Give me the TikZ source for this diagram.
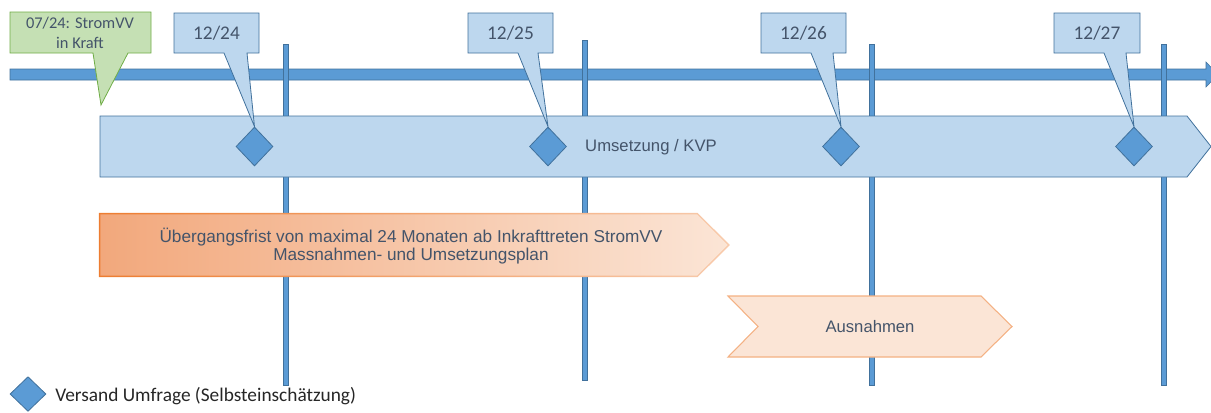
\documentclass[tikz,border=0pt]{standalone}
\usepackage{fontspec}
\setmainfont{Carlito}
\newfontfamily\arialf{Liberation Sans}
\usetikzlibrary{shapes.geometric}
\definecolor{mblue}{HTML}{5B9BD5}
\definecolor{dblue}{HTML}{41719C}
\definecolor{lblue}{HTML}{BDD7EE}
\definecolor{lgreen}{HTML}{C5E0B4}
\definecolor{dgreen}{HTML}{70AD47}
\definecolor{txt}{HTML}{44546A}
\definecolor{orA}{HTML}{F2A87C}
\definecolor{orB}{HTML}{FBE5D6}
\definecolor{orLine}{HTML}{ED7D31}
\definecolor{orLineB}{HTML}{F8CBAD}
\definecolor{peach}{HTML}{FBE5D6}
\definecolor{peachLine}{HTML}{F4B183}
\begin{document}
\begin{tikzpicture}[x=0.75pt,y=-0.75pt,
  vbar/.style={fill=mblue,draw=dblue,line width=0.5pt},
  callout/.style={fill=lblue,draw=dblue,line width=0.6pt,line join=miter},
  gcallout/.style={fill=lgreen,draw=dgreen,line width=0.6pt},
  ctext/.style={text=txt,font=\fontsize{14.5}{16}\selectfont,inner sep=0pt},
  gtext/.style={text=txt,font=\fontsize{12.3}{14}\selectfont,inner sep=0pt},
  atext/.style={text=txt,font=\arialf\fontsize{12.5}{14}\selectfont,inner sep=0pt},
  dia/.style={diamond,fill=mblue,draw=dblue,line width=0.6pt,inner sep=0pt,minimum width=27.75pt,minimum height=29.25pt}
]
\useasboundingbox (0,0) rectangle (1211,412);
% main time arrow
\path[fill=mblue,draw=dblue,line width=0.4pt] (10,69) -- (1206,69) -- (1206,62) -- (1218,74.5) -- (1206,87) -- (1206,80) -- (10,80) -- cycle;
% vertical year lines
\draw[vbar] (283.5,44) rectangle (288.5,385);
\draw[vbar] (582.5,40) rectangle (587.5,380);
\draw[vbar] (869.5,44) rectangle (874.5,385);
\draw[vbar] (1161.5,44) rectangle (1166.5,385);
% Umsetzung box
\path[fill=lblue,draw=dblue,line width=0.6pt] (100,116) -- (1187,116) -- (1211,146.5) -- (1187,177) -- (100,177) -- cycle;
\node[atext] (ums) at (651,147) {Umsetzung / KVP};
% orange transition arrow
\path[left color=orLine,right color=orLineB] (98.8,212.8) -- (697.5,212.8) -- (729.8,245) -- (697.5,277.2) -- (98.8,277.2) -- cycle;
\path[left color=orA,right color=orB] (100.4,214.4) -- (697,214.4) -- (727.6,245) -- (697,275.6) -- (100.4,275.6) -- cycle;
\node[atext,align=center,font=\arialf\fontsize{12.9}{13.5}\selectfont] (frist) at (411,246) {Übergangsfrist von maximal 24 Monaten ab Inkrafttreten StromVV\\Massnahmen- und Umsetzungsplan};
% Ausnahmen chevron
\path[fill=peach,draw=peachLine,line width=0.8pt] (728,296) -- (981,296) -- (1012,326.5) -- (981,357) -- (728,357) -- (758,326.5) -- cycle;
\node[atext] (aus) at (870,327) {Ausnahmen};
% diamonds
\node[dia] (d1) at (254.5,146.5) {};
\node[dia] (d2) at (548,146.5) {};
\node[dia] (d3) at (841,146.5) {};
\node[dia] (d4) at (1134,146.5) {};
% callouts
\path[callout] (174,13) -- (259,13) -- (259,53) -- (247,53) -- (d1.north) -- (224,53) -- (174,53) -- cycle;
\node[ctext] (c1) at (216.5,33) {12/24};
\path[callout] (468,13) -- (553,13) -- (553,53) -- (538,53) -- (d2.north) -- (518,53) -- (468,53) -- cycle;
\node[ctext] (c2) at (510.5,33) {12/25};
\path[callout] (761,13) -- (846,13) -- (846,53) -- (833,53) -- (d3.north) -- (811,53) -- (761,53) -- cycle;
\node[ctext] (c3) at (803.5,33) {12/26};
\path[callout] (1054,13) -- (1140,13) -- (1140,53) -- (1126,53) -- (d4.north) -- (1104,53) -- (1054,53) -- cycle;
\node[ctext] (c4) at (1097,33) {12/27};
% green callout
\coordinate (gtip) at (101,105);
\path[gcallout] (10,12) -- (151,12) -- (151,53) -- (128,53) -- (gtip) -- (93,53) -- (10,53) -- cycle;
\node[gtext] (g1) at (80,23) {07/24: StromVV};
\node[gtext] (g2) at (80,43) {in Kraft};
% legend
\node[dia,minimum width=27pt,minimum height=26pt] (ld) at (28,394) {};
\node[anchor=west,inner sep=0pt,text=black!85,font=\fontsize{14.5}{16}\selectfont] (lt) at (55,396) {Versand Umfrage (Selbsteinschätzung)};
\end{tikzpicture}
\end{document}
